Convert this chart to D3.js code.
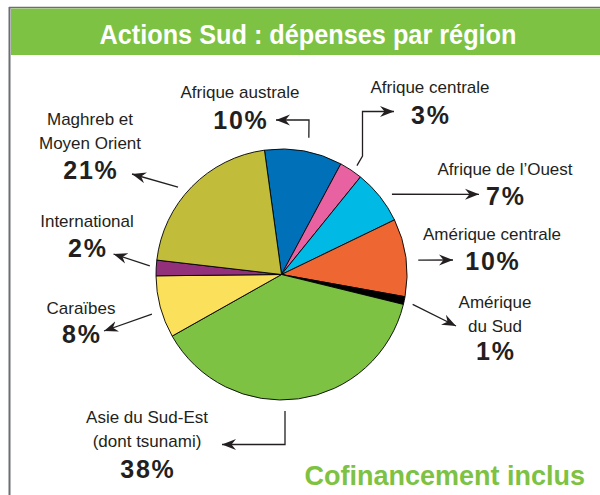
<!DOCTYPE html>
<html>
<head>
<meta charset="utf-8">
<script src="https://cdn.jsdelivr.net/npm/d3@7"></script>
<style>
  body { margin: 0; background: #fff; }
  svg { display: block; }
  text { font-family: "Liberation Sans", Arial, sans-serif; fill: #231f20; }
</style>
</head>
<body>
<svg id="chart" width="600" height="495"></svg>
<script>
// data, clockwise from the top
const regions = ["Afrique australe", "Afrique centrale", "Afrique de l’Ouest", "Amérique centrale",
                 "Amérique du Sud", "Asie du Sud-Est", "Caraïbes", "International", "Maghreb et Moyen Orient"];
const shares = [10, 3, 7, 10, 1, 38, 8, 2, 21];
const labelLines = [["Afrique australe"], ["Afrique centrale"], ["Afrique de l’Ouest"], ["Amérique centrale"],
                    ["Amérique", "du Sud"], ["Asie du Sud-Est", "(dont tsunami)"], ["Caraïbes"],
                    ["International"], ["Maghreb et", "Moyen Orient"]];
const sliceColors = ["#0071b9", "#e862a2", "#00b9e4", "#ee6631", "#000000",
                     "#7dc242", "#fbe05b", "#93307c", "#c1bd3b"];

let svg = d3.select("#chart");
let cx = 281.5, cy = 274.5, radius = 125.5;

// frame + header
svg.append("line")
    .attr("x1", 9).attr("x2", 600).attr("y1", 7.5).attr("y2", 7.5)
    .style("stroke", "#6d6e70").style("stroke-width", 1.5);
svg.append("line")
    .attr("x1", 9.5).attr("x2", 9.5).attr("y1", 7).attr("y2", 495)
    .style("stroke", "#6d6e70").style("stroke-width", 2);
svg.append("rect")
    .attr("x", 11).attr("y", 8.5).attr("width", 589).attr("height", 46.5)
    .style("fill", "#7dc242");
svg.append("text")
    .attr("x", 308).attr("y", 44)
    .attr("text-anchor", "middle")
    .attr("textLength", 417).attr("lengthAdjust", "spacingAndGlyphs")
    .style("font-size", "27px").style("font-weight", "bold").style("fill", "#fff")
    .text("Actions Sud : dépenses par région");

// pie
let rad = d => d * Math.PI / 180;
let pie = d3.pie().sort(null).startAngle(rad(-7.8)).endAngle(rad(352.2));
let arcs = pie(shares);
let arc = d3.arc().innerRadius(0).outerRadius(radius);

let g = svg.append("g").attr("transform", `translate(${cx}, ${cy})`);
g.selectAll("path.slice")
    .data(arcs)
    .join("path")
    .attr("class", "slice")
    .attr("d", arc)
    .style("fill", (d, i) => sliceColors[i])
    .style("stroke", "#000")
    .style("stroke-width", 0.9)
    .style("stroke-linejoin", "round");

// arrow heads
svg.append("defs").append("marker")
    .attr("id", "head")
    .attr("markerUnits", "userSpaceOnUse")
    .attr("viewBox", "-14 -6 15 12")
    .attr("refX", 0).attr("refY", 0)
    .attr("markerWidth", 15).attr("markerHeight", 12)
    .attr("orient", "auto")
    .append("path")
    .attr("d", "M0,0 L-14,-5.5 L-9.5,0 L-14,5.5 Z")
    .style("fill", "#231f20");

// leader layout: start angle offset / radius, then bend points (page coords)
let layout = [
    {da: 1.1, dr: 14, pts: [[309, 120], [276, 120]], x: 240, y: 98, py: 128.5},
    {da: 1.1, dr: 7, pts: [[362.5, 156], [362.5, 111.5], [394, 111.5]], x: 430, y: 93, py: 124},
    {da: 2.4, dr: 11, pts: [[479, 194.3]], x: 505, y: 175, py: 205},
    {da: 1.8, dr: 12, pts: [[453, 260]], x: 492, y: 240, py: 270},
    {da: 0.8, dr: 9, pts: [[456, 326]], x: 495, y: 308, py: 360},
    {da: 6.33, dr: 11, pts: [[285, 444.5], [222, 444.5]], x: 147, y: 423, py: 478},
    {da: -2, dr: 10, pts: [[104, 331]], x: 81, y: 314, py: 343},
    {da: 0.7, dr: 6.5, pts: [[113.5, 254]], x: 87, y: 227, py: 257},
    {da: -4.2, dr: 10, pts: [[132, 174]], x: 90, y: 125, py: 179}
];

arcs.forEach(function(d, i) {
    let L = layout[i];
    let a = (d.startAngle + d.endAngle) / 2 + rad(L.da);
    let r0 = radius + L.dr;
    let start = [cx + r0 * Math.sin(a), cy - r0 * Math.cos(a)];
    let pts = [start].concat(L.pts);

    svg.append("path")
        .attr("d", d3.line()(pts))
        .style("fill", "none")
        .style("stroke", "#231f20")
        .style("stroke-width", 1.3)
        .attr("marker-end", "url(#head)");

    svg.selectAll(null)
        .data(labelLines[i])
        .join("text")
        .attr("x", L.x)
        .attr("y", (t, j) => L.y + j * 24)
        .attr("text-anchor", "middle")
        .style("font-size", "17px")
        .text(t => t);

    svg.append("text")
        .attr("x", L.x + 0.9)
        .attr("y", L.py)
        .attr("text-anchor", "middle")
        .style("font-size", "25px")
        .style("letter-spacing", "1.8px")
        .style("font-weight", "bold")
        .text(d.data + "%");
});

svg.append("text")
    .attr("x", 585).attr("y", 485)
    .attr("text-anchor", "end")
    .style("font-size", "27px").style("font-weight", "bold").style("fill", "#7dc242")
    .text("Cofinancement inclus");
</script>
</body>
</html>
